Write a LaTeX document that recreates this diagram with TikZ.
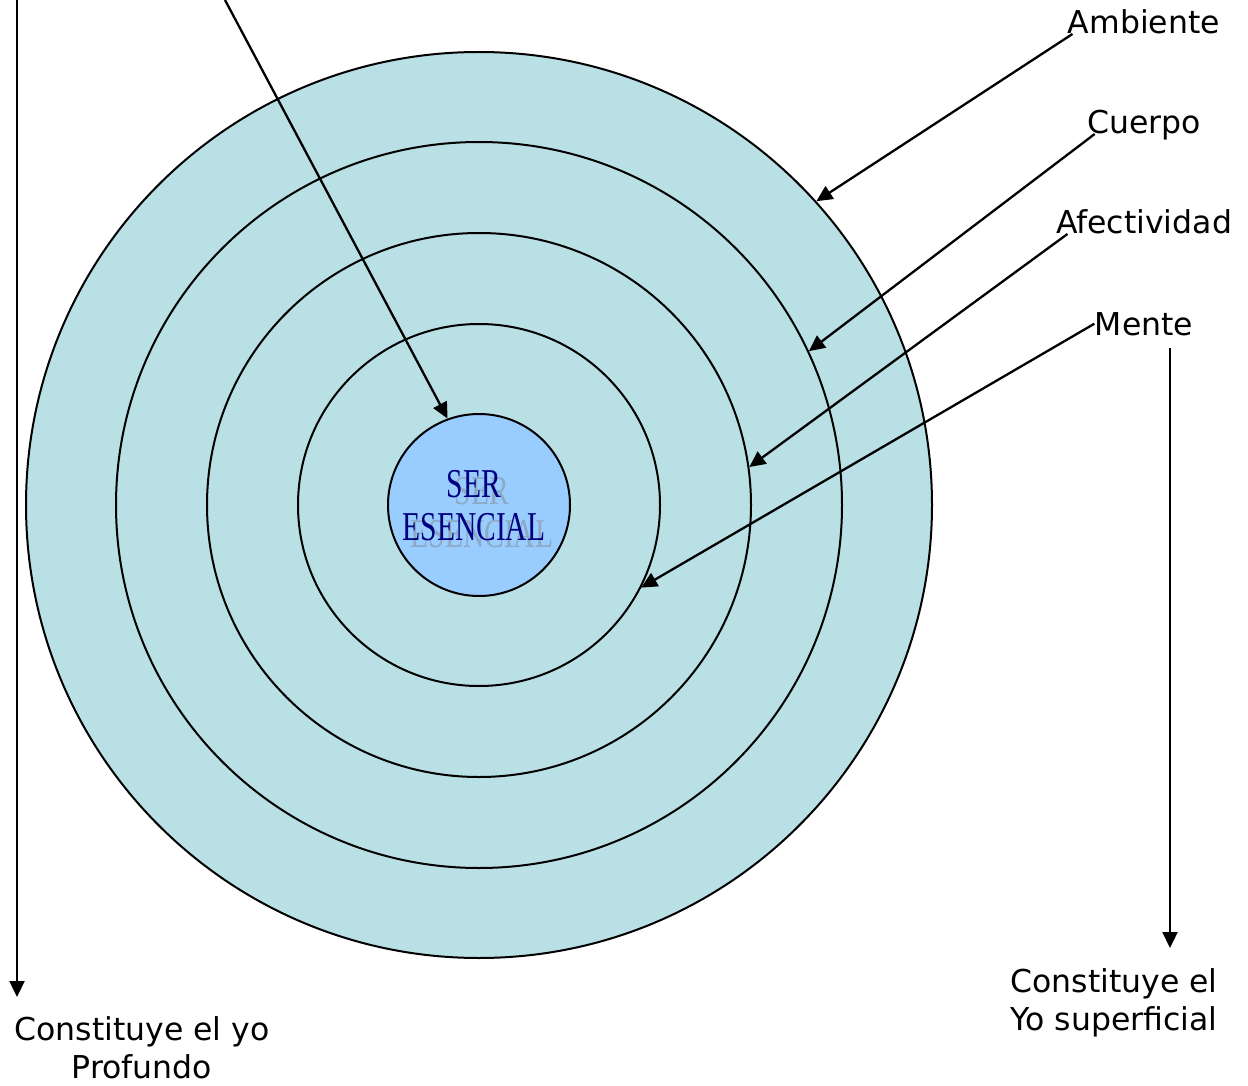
\documentclass[tikz,border=0pt]{standalone}
\usepackage{fontspec}
\setmainfont{DejaVu Sans}
\newfontfamily\serfont{Liberation Serif}
\usetikzlibrary{arrows.meta}
\definecolor{ringfill}{RGB}{185,224,228}
\definecolor{corefill}{RGB}{153,204,255}
\definecolor{corenavy}{RGB}{0,0,128}
\tikzset{
  ring/.style={circle,draw,line width=2pt,fill=ringfill,inner sep=0pt,minimum size=#1},
  lbl/.style={font=\fontsize{31.5}{38}\selectfont,anchor=base,align=center},
  coretext/.style={font=\serfont\fontsize{41}{43}\selectfont,anchor=base,inner sep=0pt},
  pointer/.style={-{Triangle[length=16pt,width=15pt]},line width=2.3pt}
}
\begin{document}
\begin{tikzpicture}[x=1pt,y=-1pt]
    \useasboundingbox (0,0) rectangle (1248,1086);
    
    \node[ring=906pt] (ambiente) at (479,505) {};
    \node[ring=726pt] (cuerpo) at (479,505) {};
    \node[ring=544pt] (afect) at (479,505) {};
    \node[ring=362pt] (mente) at (479,505) {};
    \node[ring=182pt,fill=corefill] (ser) at (479,505) {};
    \node[coretext,text=gray,opacity=0.45] (serShadow) at (482,504) {\scalebox{0.72}[1]{\begin{tabular}[t]{@{}c@{}}SER\\ESENCIAL\end{tabular}}};
    \node[coretext,text=corenavy] (serText) at (474,497) {\scalebox{0.72}[1]{\begin{tabular}[t]{@{}c@{}}SER\\ESENCIAL\end{tabular}}};
    
    \node[lbl] (lblAmbiente) at (1144,34) {Ambiente};
    \node[lbl] (lblCuerpo) at (1144,134) {Cuerpo};
    \node[lbl] (lblAfect) at (1144,234) {Afectividad};
    \node[lbl] (lblMente) at (1144,335) {Mente};
    \node[lbl] (lblProfundo) at (142,1078) {Constituye el yo\\Profundo};
    \node[lbl] (lblSuperficial) at (1114,1030) {Constituye el\\Yo superficial};
    
    \coordinate (deepTop) at (17,0);
    \coordinate (deepEnd) at (17,997);
    \coordinate (serTop) at (225,0);
    \coordinate (superTop) at (1170,348);
    \coordinate (superEnd) at (1170,948);
    
    \draw[pointer] (deepTop) -- (deepEnd);
    \draw[pointer] (serTop) -- (ser.110);
    \draw[pointer] ([xshift=8pt]lblAmbiente.base west) -- (ambiente.42);
    \draw[pointer] ([xshift=11pt]lblCuerpo.base west) -- (cuerpo.25);
    \draw[pointer] ([xshift=15pt]lblAfect.base west) -- (afect.8);
    \draw[pointer] ([xshift=3pt]lblMente.west) -- (mente.-27);
    \draw[pointer] (superTop) -- (superEnd);
    
\end{tikzpicture}
\end{document}
